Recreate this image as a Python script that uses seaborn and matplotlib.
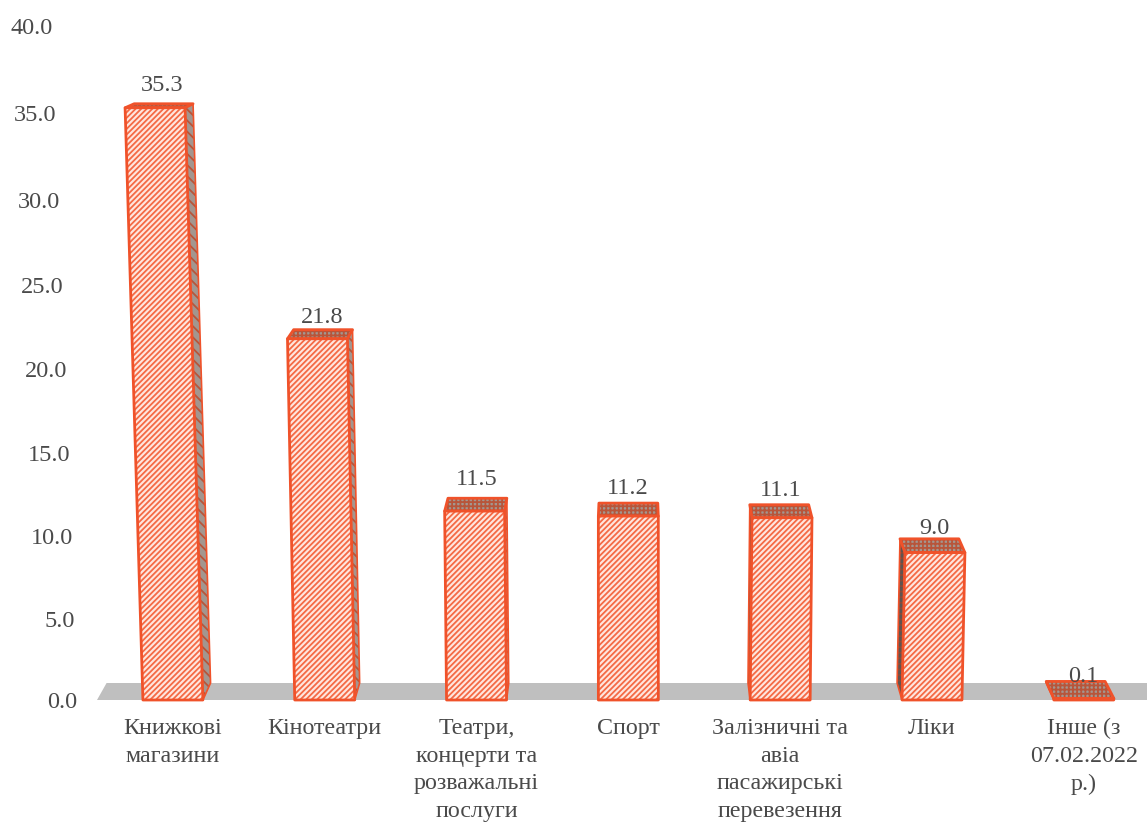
import numpy as np
import pandas as pd
import matplotlib
matplotlib.use('Agg')
import matplotlib.pyplot as plt
from matplotlib.patches import Polygon
from matplotlib.transforms import IdentityTransform
import seaborn as sns

categories = ['Книжкові\nмагазини', 'Кінотеатри', 'Театри,\nконцерти та\nрозважальні\nпослуги',
              'Спорт', 'Залізничні та\nавіа\nпасажирські\nперевезення', 'Ліки',
              'Інше (з\n07.02.2022\nр.)']
values = [35.3, 21.8, 11.5, 11.2, 11.1, 9.0, 0.1]
y_ticks = [0, 5, 10, 15, 20, 25, 30, 35, 40]

# the axis in the original is in perspective so ticks are not evenly spaced
tick_px = [700, 619, 536, 453, 369, 285, 200, 113, 26]
# right edge of each y label, in px
tick_right = [77, 75, 73, 70, 67, 64, 60, 56, 53]
# gap between bar top and its value label
label_gap = [18, 12, 19, 15, 14, 10, 5]

W, H = 1147, 823
LEFT = 97
VP_X = 629     # vanishing point x
LEAN = 6.6e-5
BACK = 0.018

ORANGE = '#F0522A'
STRIPE = '#F46A45'
DARK = '#B8553A'
TEXT = '#4A4A4A'

sns.set_theme(style='white')
plt.rcParams['font.family'] = ['Liberation Serif', 'DejaVu Serif']
plt.rcParams['hatch.linewidth'] = 1.3

df = pd.DataFrame({'category': categories, 'value': values})

fig = plt.figure(figsize=(W / 100, H / 100), dpi=100)
ax = fig.add_axes([LEFT / W, (H - 700) / H, (W - LEFT) / W, 674 / H])
sns.barplot(data=df, x='category', y='value', width=0.395, color=ORANGE, ax=ax)

heights = 700 - np.array(tick_px, dtype=float)


def to_axis(v):
    return np.interp(v, y_ticks, heights)


def from_axis(v):
    return np.interp(v, heights, y_ticks)


ax.set_yscale('function', functions=(to_axis, from_axis))
ax.set_ylim(0, 40)
ax.set_xlim(-0.5, (W - 173) / 151.8)
ax.set_yticks(y_ticks)
ax.set_yticklabels([f'{t:.1f}' for t in y_ticks], fontsize=17.5, color=TEXT)
ax.tick_params(axis='x', length=0, labelsize=17.3, labelcolor=TEXT, pad=13)
ax.tick_params(axis='y', length=0)
ax.minorticks_off()
for tick, r in zip(ax.yaxis.get_major_ticks(), tick_right):
    tick.set_pad((LEFT - r) * 0.72)
for lab in ax.get_xticklabels():
    lab.set_linespacing(1.42)
ax.set_xlabel('')
ax.set_ylabel('')
sns.despine(ax=ax, left=True, bottom=True, top=True, right=True)
ax.patch.set_alpha(0)


def front(x, cx, y, y0):
    # whole front face leans towards the vanishing point, width stays the same
    return x + (cx - VP_X) * LEAN * (y - y0), y


def back(x, y, y0):
    depth = 17 - (y - y0) * 13 / 593
    return x + (VP_X - x) * BACK, y + depth


def face(pts, fc, stripe, hatch, z, lw=2.0):
    # hatch colour is tied to the edge colour so the outline goes on separately
    tr = IdentityTransform()
    fig.add_artist(Polygon(pts, closed=True, facecolor=fc, edgecolor=stripe, hatch=hatch,
                           linewidth=0, transform=tr, zorder=z))
    fig.add_artist(Polygon(pts, closed=True, fill=False, edgecolor=ORANGE, linewidth=lw,
                           joinstyle='round', transform=tr, zorder=z + 0.1))


bars = list(ax.patches)
fig.canvas.draw()
y0 = ax.transData.transform((0, 0))[1]

# floor
fx0 = ax.transAxes.transform((0, 0))[0]
fx1 = fx0 + W
floor = [(fx0, y0), (fx1, y0), back(fx1, y0, y0), back(fx0, y0, y0)]
fig.add_artist(Polygon(floor, closed=True, facecolor='#BFBFBF', edgecolor='none',
                       transform=IdentityTransform(), zorder=1))

for bar, val, gap in zip(bars, values, label_gap):
    bar.set_visible(False)
    x1 = bar.get_x()
    x2 = x1 + bar.get_width()
    xl = ax.transData.transform((x1, 0))[0]
    xr = ax.transData.transform((x2, 0))[0]
    xc = (xl + xr) / 2
    yt = ax.transData.transform((0, val))[1]

    fbl, fbr = (xl, y0), (xr, y0)
    ftl, ftr = front(xl, xc, yt, y0), front(xr, xc, yt, y0)
    btl = back(ftl[0], yt, y0)
    btr = back(ftr[0], yt, y0)
    bbl = back(xl, y0, y0)
    bbr = back(xr, y0, y0)

    # side face, only the one turned to the viewer shows
    if xr < VP_X - 40:
        face([fbr, ftr, btr, bbr], '#A3968F', DARK, '\\\\\\', 3, lw=1.2)
    elif xl > VP_X + 40:
        face([fbl, ftl, btl, bbl], '#5F5450', '#8A4A38', '---', 3, lw=1.2)
    face([ftl, ftr, btr, btl], '#A3968F', DARK, '++++', 3)
    face([fbl, fbr, ftr, ftl], '#FFE6DE', STRIPE, '//////', 4)

    # left bars have the label over the back edge, right bars over the front
    if xr < VP_X + 40:
        cx = (btl[0] + btr[0]) / 2 - 1
    else:
        cx = (ftl[0] + ftr[0]) / 2 - 1
    fig.text(cx, btl[1] + gap, f'{val:.1f}', transform=IdentityTransform(), ha='center',
             va='center', fontsize=17.5, color=TEXT, zorder=6)

fig.savefig('out.png', dpi=100)
